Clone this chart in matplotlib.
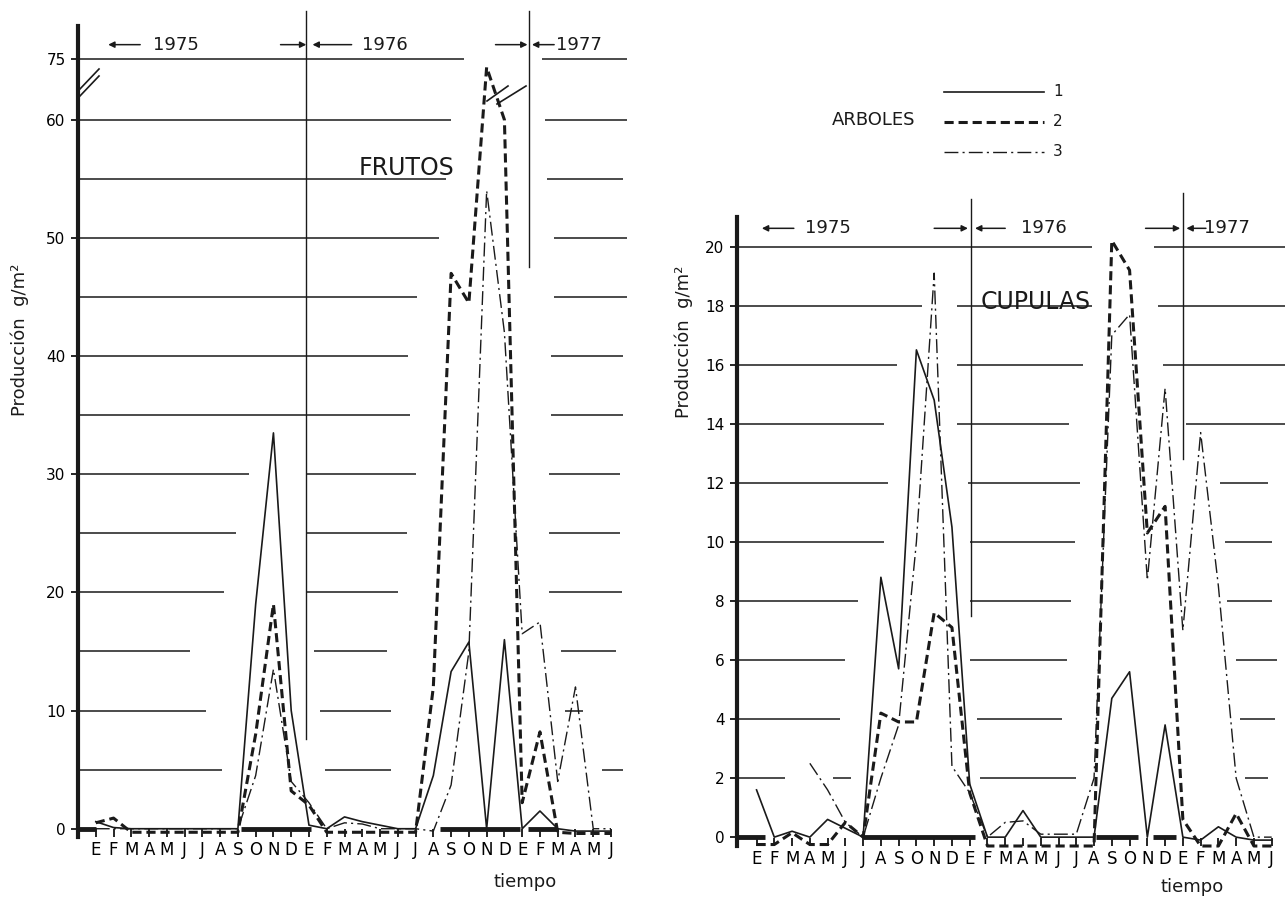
import matplotlib
matplotlib.use('Agg')
import matplotlib.pyplot as plt
from matplotlib.lines import Line2D
import numpy as np

W, H = 1285, 901
nan = np.nan

months = list(range(30))
month_labels = ['E', 'F', 'M', 'A', 'M', 'J', 'J', 'A', 'S', 'O', 'N', 'D',
                'E', 'F', 'M', 'A', 'M', 'J', 'J', 'A', 'S', 'O', 'N', 'D',
                'E', 'F', 'M', 'A', 'M', 'J']

# FRUTOS, g/m2, Jan 1975 .. Jun 1977 (arboles 1, 2, 3)
frutos_1 = [0.6, 0.1, 0, 0, 0, 0, 0, 0, 0, 19, 33.5, 10, 0.3, 0, 1.0, 0.6, 0.3, 0, 0,
            4.5, 13.3, 15.8, 0, 16, 0, 1.5, 0, -0.2, -0.2, -0.2]
frutos_2 = [0.5, 0.9, -0.3, -0.3, -0.3, -0.3, -0.3, -0.3, -0.3, 8, 19, 3.2, 2.0, -0.3,
            -0.3, -0.3, -0.3, -0.3, -0.3, 12, 47, 44.5, 73, 60, 2.2, 8.2, -0.3, -0.4, -0.4, -0.4]
frutos_3 = [0, 0, 0, 0, 0, 0, 0, 0, 0, 4.5, 13.5, 4, 2.2, 0, 0.5, 0.4, 0, 0, 0,
            -0.2, 3.7, 15, 54, 42, 16.5, 17.5, 4, 12, 0, 0]

# CUPULAS, g/m2
cupulas_1 = [1.6, 0, 0.2, 0, 0.6, 0.3, 0, 8.8, 5.7, 16.5, 14.8, 10.5, 1.8, 0, 0, 0.9, 0, 0,
             0, 0, 4.7, 5.6, 0, 3.8, 0, -0.1, 0.35, 0, -0.1, -0.1]
cupulas_2 = [-0.25, -0.25, 0.15, -0.25, -0.25, 0.5, 0, 4.2, 3.9, 3.9, 7.6, 7.1, 1.5, -0.3,
             -0.3, -0.3, -0.3, -0.3, -0.3, -0.3, 20.2, 19.2, 10.3, 11.2, 0.6, -0.3, -0.3,
             0.8, -0.3, -0.3]
cupulas_3 = [nan, nan, nan, 2.5, 1.6, 0.5, 0, 2.0, 3.8, 10, 19.1, 2.4, 1.5, 0, 0.5, 0.55,
             0.1, 0.1, 0.1, 2.0, 17.0, 17.7, 8.7, 15.2, 7.0, 13.7, 8.5, 2.0, 0, 0]

# thick zero bars (month ranges)
zero_frutos = [(-1, 0.0), (8.2, 12.1), (19.4, 23.9), (24.3, 25.9)]
zero_cupulas = [(-1.1, 0.5), (6.0, 12.3), (19.1, 21.5), (22.3, 23.6)]

# broken horizontal guide lines, drawn by hand in the original
grid_frutos = {
    75: [(-1, 20.7), (25.1, 29.9)], 60: [(-1, 20.0), (25.3, 29.9)],
    55: [(-1, 19.7), (25.4, 29.7)], 50: [(-1, 19.3), (25.8, 29.9)],
    45: [(-1, 18.1), (25.8, 29.9)], 40: [(-1, 17.6), (25.6, 29.7)],
    35: [(-1, 17.7), (25.6, 29.7)],
    30: [(-1, 8.6), (11.9, 18.0), (25.5, 29.5)],
    25: [(-1, 7.9), (11.9, 17.5), (25.5, 29.5)],
    20: [(-1, 7.2), (11.9, 17.0), (25.5, 29.6)],
    15: [(-1, 5.3), (12.3, 16.4), (26.2, 29.3)],
    10: [(-1, 6.2), (12.6, 16.6), (26.4, 27.4)],
    5: [(-1, 7.1), (12.9, 16.6), (28.5, 29.7)],
}
grid_cupulas = {
    20: [(-1.1, 18.9), (22.4, 29.75)],
    18: [(-1.1, 9.3), (11.3, 18.9), (22.6, 29.75)],
    16: [(-1.1, 7.9), (11.3, 18.4), (22.9, 29.75)],
    14: [(-1.1, 7.2), (11.3, 17.6), (24.2, 29.75)],
    12: [(-1.1, 7.4), (11.9, 18.2), (26.1, 28.8)],
    10: [(-1.1, 7.2), (12.0, 17.9), (26.4, 29.0)],
    8: [(-1.1, 5.7), (12.0, 17.7), (26.5, 29.0)],
    6: [(-1.1, 5.0), (12.0, 17.5), (27.0, 29.3)],
    4: [(-1.1, 4.7), (12.4, 17.2), (27.2, 29.2)],
    2: [(-1.1, 1.6), (4.3, 5.3), (12.6, 18.0), (27.5, 28.8)],
}

plt.rcParams['font.family'] = ['DejaVu Sans']
INK = '#1a1a1a'


def fwd(v):
    v = np.asarray(v, dtype=float)
    return np.where(v <= 60, v, 60 + (v - 60) * 0.342)


def inv(t):
    t = np.asarray(t, dtype=float)
    return np.where(t <= 60, t, 60 + (t - 60) / 0.342)


def fx(px):
    return px / W


def fy(py):
    return 1 - py / H


def setup(ax, xlim, ylim, yticks, grid, zeros):
    ax.set_xlim(*xlim)
    ax.set_ylim(*ylim)
    for s in ['top', 'right', 'bottom']:
        ax.spines[s].set_visible(False)
    ax.spines['left'].set_linewidth(3.0)
    ax.spines['left'].set_color(INK)
    ax.set_yticks(yticks)
    ax.set_xticks(months)
    ax.set_xticklabels(month_labels)
    ax.tick_params(axis='y', direction='out', length=5, width=1.2, labelsize=11, pad=4)
    ax.tick_params(axis='x', direction='in', length=6, width=1.2, labelsize=12, pad=3)
    for y, segs in grid.items():
        for a, b in segs:
            ax.hlines(y, a, b, color=INK, lw=1.1)
    for a, b in zeros:
        ax.hlines(0, a, b, color=INK, lw=3.5, zorder=4)


def series(ax, s1, s2, s3):
    ax.plot(months, s1, color=INK, lw=1.2, clip_on=False, zorder=5)
    ax.plot(months, s2, color=INK, lw=2.2, dashes=(3, 1.6), clip_on=False, zorder=5)
    ax.plot(months, s3, color=INK, lw=1.0, dashes=(10, 3, 1.5, 3), clip_on=False, zorder=5)


def years(ax, yf, marks, lines):
    tr = ax.get_xaxis_transform()
    for head, tail in marks['arrows']:
        ax.annotate('', xy=(head, yf), xytext=(tail, yf), xycoords=tr, textcoords=tr,
                    arrowprops=dict(arrowstyle='-|>', color=INK, lw=1.1, mutation_scale=9,
                                    shrinkA=0, shrinkB=0))
    for x, label in marks['texts']:
        ax.text(x, yf, label, transform=tr, ha='left', va='center', fontsize=13, color=INK)
    for x, y0, y1 in lines:
        ax.plot([x, x], [y0, y1], color=INK, lw=1.0, clip_on=False)


fig = plt.figure(figsize=(W / 100, H / 100), dpi=100)

# ---- FRUTOS
ax1 = fig.add_axes([fx(78), fy(837), fx(627 - 78), (837 - 26) / H])
ax1.set_yscale('function', functions=(fwd, inv))
setup(ax1, (-1, 29.9), (-0.7, 83.2), [0, 10, 20, 30, 40, 50, 60, 75], grid_frutos, zero_frutos)
series(ax1, frutos_1, frutos_2, frutos_3)
years(ax1, 0.977,
      {'arrows': [(0.7, 2.5), (11.85, 10.4), (12.2, 14.4), (24.3, 22.5), (24.55, 25.8)],
       'texts': [(3.2, '1975'), (15.0, '1976'), (25.9, '1977')]},
      [(11.85, 7.6, 87), (24.4, 47.5, 87)])
ax1.text(17.5, 0.825, 'FRUTOS', transform=ax1.get_xaxis_transform(), ha='center',
         va='center', fontsize=17, color=INK)

# axis break marks
for (x0, y0, x1, y1) in [(79, 90, 99, 69), (79, 97, 99, 76), (487, 101, 508, 86), (497, 104, 526, 86)]:
    fig.add_artist(Line2D([fx(x0), fx(x1)], [fy(y0), fy(y1)], transform=fig.transFigure,
                          color=INK, lw=1.2))

# ---- CUPULAS
ax2 = fig.add_axes([fx(737), fy(846), fx(1285 - 737), (846 - 217) / H])
setup(ax2, (-1.1, 29.75), (-0.3, 21.0), list(range(0, 21, 2)), grid_cupulas, zero_cupulas)
series(ax2, cupulas_1, cupulas_2, cupulas_3)
years(ax2, 0.982,
      {'arrows': [(0.3, 2.1), (11.9, 10.0), (12.3, 14.0), (23.85, 21.9), (24.2, 25.3)],
       'texts': [(2.7, '1975'), (14.9, '1976'), (25.2, '1977')]},
      [(12.05, 7.5, 21.6), (24.0, 12.8, 21.8)])
ax2.text(15.7, 0.865, 'CUPULAS', transform=ax2.get_xaxis_transform(), ha='center',
         va='center', fontsize=17, color=INK)

# legend (ARBOLES 1, 2, 3)
fig.text(fx(874), fy(120), 'ARBOLES', ha='center', va='center', fontsize=13, color=INK)
for yy, kw, lab in [(92, dict(lw=1.2), '1'), (122, dict(lw=2.2, dashes=(3, 1.6)), '2'),
                    (152, dict(lw=1.0, dashes=(10, 3, 1.5, 3)), '3')]:
    fig.add_artist(Line2D([fx(944), fx(1044)], [fy(yy), fy(yy)], transform=fig.transFigure,
                          color=INK, **kw))
    fig.text(fx(1058), fy(yy), lab, ha='center', va='center', fontsize=11, color=INK)

# axis titles
fig.text(fx(20), fy(340), 'Producción  g/m²', rotation=90, ha='center', va='center',
         fontsize=13, color=INK)
fig.text(fx(684), fy(342), 'Producción  g/m²', rotation=90, ha='center', va='center',
         fontsize=13, color=INK)
fig.text(fx(525), fy(882), 'tiempo', ha='center', va='center', fontsize=13, color=INK)
fig.text(fx(1192), fy(887), 'tiempo', ha='center', va='center', fontsize=13, color=INK)

fig.savefig('out.png', dpi=100)
